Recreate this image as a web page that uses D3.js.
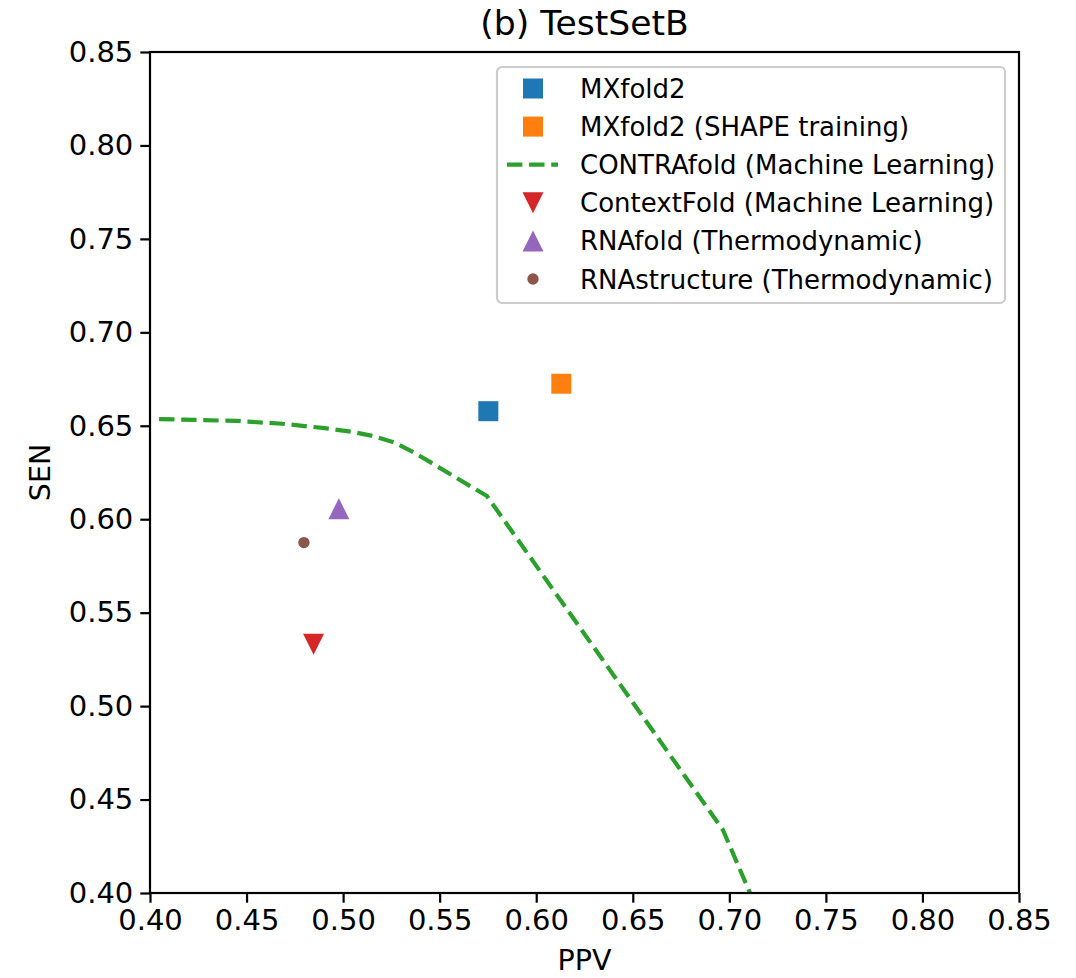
<!DOCTYPE html>
<html lang="en">
<head>
<meta charset="utf-8">
<script src="https://d3js.org/d3.v7.min.js"></script>
<style>
  body { margin: 0; background: #fff; }
  svg { font-family: "DejaVu Sans", sans-serif; }
</style>
</head>
<body>
<div id="chart"></div>

<script>
  // tick values for both axes
  var xTicks = [0.40, 0.45, 0.50, 0.55, 0.60, 0.65, 0.70, 0.75, 0.80, 0.85]
  var yTicks = [0.40, 0.45, 0.50, 0.55, 0.60, 0.65, 0.70, 0.75, 0.80, 0.85]

  // CONTRAfold curve (PPV, SEN)
  var contraPPV = [0.4047, 0.4445, 0.4684, 0.4906, 0.5046, 0.5155, 0.5269, 0.5372, 0.5745, 0.6967, 0.7107]
  var contraSEN = [0.6536, 0.6526, 0.6511, 0.6487, 0.6468, 0.6445, 0.6409, 0.6354, 0.6124, 0.4337, 0.4000]

  // single point methods
  var methods = ['MXfold2', 'MXfold2 (SHAPE training)', 'ContextFold (Machine Learning)',
                 'RNAfold (Thermodynamic)', 'RNAstructure (Thermodynamic)']
  var methodPPV = [0.5752, 0.6130, 0.4847, 0.4978, 0.4797]
  var methodSEN = [0.6578, 0.6725, 0.5331, 0.6056, 0.5875]
  var methodColor = ['#1f77b4', '#ff7f0e', '#d62728', '#9467bd', '#8c564b']
  var methodShape = ['square', 'square', 'triDown', 'triUp', 'circle']

  // legend order as in the figure
  var legendLabels = ['MXfold2', 'MXfold2 (SHAPE training)', 'CONTRAfold (Machine Learning)',
                      'ContextFold (Machine Learning)', 'RNAfold (Thermodynamic)', 'RNAstructure (Thermodynamic)']
  var legendColor = ['#1f77b4', '#ff7f0e', '#2ca02c', '#d62728', '#9467bd', '#8c564b']
  var legendShape = ['square', 'square', 'line', 'triDown', 'triUp', 'circle']

  var W = 1076, H = 978
  var margin = {left: 150, top: 52, right: 57, bottom: 85}
  var pw = W - margin.left - margin.right
  var ph = H - margin.top - margin.bottom

  var svg = d3.select('#chart').append('svg')
      .attr('width', W)
      .attr('height', H)

  var x = d3.scaleLinear().domain([0.40, 0.85]).range([0, pw])
  var y = d3.scaleLinear().domain([0.40, 0.85]).range([ph, 0])

  var g = svg.append('g').attr('transform', 'translate(' + margin.left + ',' + margin.top + ')')

  g.append('clipPath').attr('id', 'clip')
    .append('rect').attr('width', pw).attr('height', ph)

  // marker shapes (matplotlib style: triangles are as tall as wide)
  var triUp = { draw: function(ctx, s) { var r = Math.sqrt(s) / 2
      ctx.moveTo(0, -r); ctx.lineTo(r, r); ctx.lineTo(-r, r); ctx.closePath() } }
  var triDown = { draw: function(ctx, s) { var r = Math.sqrt(s) / 2
      ctx.moveTo(0, r); ctx.lineTo(r, -r); ctx.lineTo(-r, -r); ctx.closePath() } }
  function symbolPath(shape) {
    if (shape == 'square') return d3.symbol(d3.symbolSquare, 20 * 20)()
    if (shape == 'triUp') return d3.symbol(triUp, 21 * 21)()
    if (shape == 'triDown') return d3.symbol(triDown, 21 * 21)()
    return d3.symbol(d3.symbolCircle, Math.PI * 5.7 * 5.7)()
  }

  // dashed CONTRAfold line
  var contra = contraPPV.map(function(d, i) { return [d, contraSEN[i]] })
  var line = d3.line().x(function(d) { return x(d[0]) }).y(function(d) { return y(d[1]) })

  g.append('path')
    .datum(contra)
    .attr('clip-path', 'url(#clip)')
    .attr('d', line)
    .attr('fill', 'none')
    .attr('stroke', '#2ca02c')
    .attr('stroke-width', 4.2)
    .attr('stroke-dasharray', '15.4,6.7')

  // point markers
  g.selectAll('path.pt')
    .data(methods)
    .enter()
    .append('path')
    .attr('class', 'pt')
    .attr('transform', function(d, i) { return 'translate(' + x(methodPPV[i]) + ',' + y(methodSEN[i]) + ')' })
    .attr('d', function(d, i) { return symbolPath(methodShape[i]) })
    .attr('fill', function(d, i) { return methodColor[i] })

  // axes
  var xAxis = g.append('g').attr('transform', 'translate(0,' + ph + ')')
    .call(d3.axisBottom(x).tickValues(xTicks).tickFormat(d3.format('.2f')).tickSize(9.7).tickPadding(7))
  var yAxis = g.append('g')
    .call(d3.axisLeft(y).tickValues(yTicks).tickFormat(d3.format('.2f')).tickSize(9.7).tickPadding(7))

  ;[xAxis, yAxis].forEach(function(a) {
    a.select('.domain').remove()
    a.selectAll('line').attr('stroke', '#000').attr('stroke-width', 2.2)
    a.selectAll('text').attr('font-size', 29).attr('fill', '#000')
      .attr('font-family', '"DejaVu Sans", sans-serif')
  })

  // spines
  g.append('rect')
    .attr('width', pw).attr('height', ph)
    .attr('fill', 'none').attr('stroke', '#000').attr('stroke-width', 2.2)

  // title and axis labels
  svg.append('text')
    .attr('x', margin.left + pw / 2).attr('y', 35)
    .attr('text-anchor', 'middle').attr('font-size', 34.6)
    .text('(b) TestSetB')

  svg.append('text')
    .attr('x', margin.left + pw / 2).attr('y', 970)
    .attr('text-anchor', 'middle').attr('font-size', 28.5)
    .text('PPV')

  svg.append('text')
    .attr('transform', 'translate(50,' + (margin.top + ph / 2) + ') rotate(-90)')
    .attr('text-anchor', 'middle').attr('font-size', 28.5)
    .text('SEN')

  // legend
  var legend = svg.append('g').attr('transform', 'translate(497,67)')
  legend.append('rect')
    .attr('width', 508).attr('height', 236)
    .attr('rx', 5).attr('ry', 5)
    .attr('fill', 'rgba(255,255,255,0.8)')
    .attr('stroke', '#cccccc').attr('stroke-width', 2.2)

  var rows = legend.selectAll('g.row')
    .data(legendLabels)
    .enter()
    .append('g')
    .attr('class', 'row')
    .attr('transform', function(d, i) { return 'translate(0,' + (21.5 + i * 38.1) + ')' })

  rows.each(function(d, i) {
    var r = d3.select(this)
    if (legendShape[i] == 'line') {
      r.append('line')
        .attr('x1', 10).attr('x2', 61).attr('y1', 0).attr('y2', 0)
        .attr('stroke', legendColor[i]).attr('stroke-width', 4.2)
        .attr('stroke-dasharray', '15.4,6.7')
    } else {
      r.append('path')
        .attr('transform', 'translate(36,0)')
        .attr('d', symbolPath(legendShape[i]))
        .attr('fill', legendColor[i])
    }
    r.append('text')
      .attr('x', 83).attr('y', 9.5)
      .attr('font-size', 26)
      .text(d)
  })
</script>
</body>
</html>
